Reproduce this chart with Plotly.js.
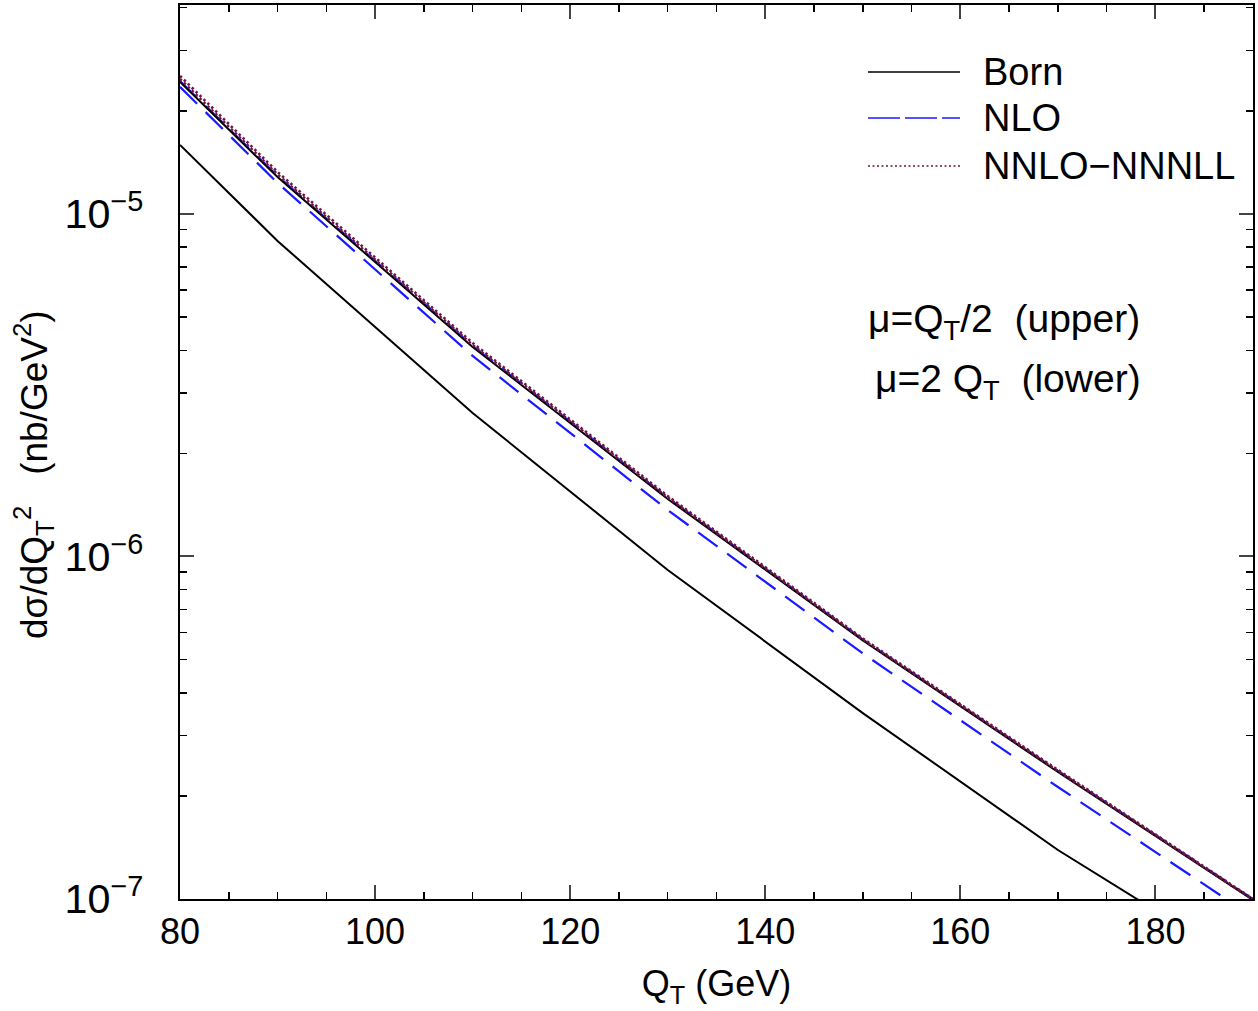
<!DOCTYPE html>
<html>
<head>
<meta charset="utf-8">
<script src="https://cdn.plot.ly/plotly-3.0.1.min.js"></script>
<style>html,body{margin:0;padding:0;background:#fff;}#plot{width:1258px;height:1011px;}</style>
</head>
<body>
<div id="plot"></div>
<script>
// Q_T sample points (GeV)
const qt = [80, 90, 110, 130, 150, 170, 190];
// mu = Q_T/2 (upper) curves
const bornUpper = [2.429e-5, 1.282e-5, 4.090e-6, 1.472e-6, 5.684e-7, 2.349e-7, 9.93e-8];
const nloUpper  = [2.445e-5, 1.291e-5, 4.118e-6, 1.482e-6, 5.72e-7, 2.365e-7, 1.0e-7];
const nnloUpper = [2.529e-5, 1.326e-5, 4.202e-6, 1.502e-6, 5.761e-7, 2.381e-7, 1.0e-7];
// mu = 2 Q_T (lower) curves
const bornLower = [1.590e-5, 8.34e-6, 2.624e-6, 9.13e-7, 3.49e-7, 1.390e-7, 6.16e-8];
const nloLower  = [2.349e-5, 1.232e-5, 3.85e-6, 1.367e-6, 5.21e-7, 2.123e-7, 8.86e-8];
const nnloLower = [2.479e-5, 1.304e-5, 4.145e-6, 1.487e-6, 5.722e-7, 2.365e-7, 9.96e-8];

const legendNames = ["Born", "NLO", "NNLO\u2212NNNLL"];
const colBorn = "#000000", colNLO = "#1a1aff", colNNLO = "#6e1446";
const FONT = "Liberation Sans, Arial, Helvetica, sans-serif";

const styles = {
  born: {color: colBorn, width: 2, dash: "solid"},
  nlo:  {color: colNLO, width: 2.2, dash: "24px,12px"},
  nnlo: {color: colNNLO, width: 2.6, dash: "2.5px,3px"}
};

function tr(y, st, name) {
  return {x: qt, y: y, type: "scatter", mode: "lines", name: name, showlegend: false,
          line: Object.assign({}, st), hoverinfo: "skip"};
}
const data = [
  tr(nloUpper, styles.nlo, legendNames[1]),
  tr(nloLower, styles.nlo, legendNames[1]),
  tr(bornUpper, styles.born, legendNames[0]),
  tr(bornLower, styles.born, legendNames[0]),
  tr(nnloUpper, styles.nnlo, legendNames[2]),
  tr(nnloLower, styles.nnlo, legendNames[2])
];

// manual legend (paper coords)
const L = 1073, T = 894;
function px(x){return (x-180)/L;}
function py(y){return (899-y)/T;}
const legRows = [
  {y: 72, color: colBorn, dash: "solid", text: legendNames[0]},
  {y: 118, color: colNLO, dash: "32px,5px", text: legendNames[1]},
  {y: 166, color: colNNLO, dash: "2px,2.5px", text: legendNames[2]}
];
const shapes = legRows.map(r => ({type: "line", xref: "paper", yref: "paper",
  x0: px(868), x1: px(960), y0: py(r.y), y1: py(r.y),
  line: {color: r.color, width: 1.6, dash: r.dash}}));
const annotations = legRows.map(r => ({xref: "paper", yref: "paper", x: px(981), y: py(r.y),
  xanchor: "left", yanchor: "middle", showarrow: false, text: r.text,
  font: {family: FONT, size: 38, color: "#000"}}));
annotations.push({xref: "paper", yref: "paper", x: px(1004), y: py(321), xanchor: "center", yanchor: "middle",
  showarrow: false, text: "\u03bc=Q<sub>T</sub>/2\u00a0\u00a0(upper)", font: {family: FONT, size: 39, color: "#000"}});
annotations.push({xref: "paper", yref: "paper", x: px(1008), y: py(381), xanchor: "center", yanchor: "middle",
  showarrow: false, text: "\u03bc=2 Q<sub>T</sub>\u00a0\u00a0(lower)", font: {family: FONT, size: 39, color: "#000"}});
annotations.push({xref: "paper", yref: "paper", x: px(34), y: py(475), xanchor: "center", yanchor: "middle",
  textangle: -90, showarrow: false,
  text: "d\u03c3/dQ<sub>T</sub><sup>2</sup>\u00a0\u00a0\u00a0(nb/GeV<sup>2</sup>)", font: {family: FONT, size: 37, color: "#000"}});

const layout = {
  width: 1258, height: 1011,
  margin: {l: 180, r: 5, t: 5, b: 112},
  paper_bgcolor: "#fff", plot_bgcolor: "#fff",
  showlegend: false,
  font: {family: FONT, color: "#000"},
  xaxis: {
    range: [80, 190], tick0: 80, dtick: 20, ticks: "inside", ticklen: 14, tickwidth: 2,
    showline: true, linewidth: 2, linecolor: "#000", mirror: "ticks", showgrid: false, zeroline: false,
    minor: {dtick: 5, ticks: "inside", ticklen: 7, tickwidth: 1.5, tickcolor: "#000", showgrid: false},
    tickfont: {family: FONT, size: 36, color: "#000"},
    title: {text: "Q<sub>T</sub> (GeV)", font: {family: FONT, size: 36, color: "#000"}, standoff: 20}
  },
  yaxis: {
    type: "log", range: [-7, -4.39], dtick: 1, exponentformat: "power", ticks: "inside", ticklen: 14, tickwidth: 2,
    showline: true, linewidth: 2, linecolor: "#000", mirror: "ticks", showgrid: false, zeroline: false,
    minor: {dtick: "D1", ticks: "inside", ticklen: 7, tickwidth: 1.5, tickcolor: "#000", showgrid: false},
    tickfont: {family: FONT, size: 33, color: "#000"}, ticklabelstandoff: 28
  },
  shapes: shapes,
  annotations: annotations
};

Plotly.newPlot("plot", data, layout, {staticPlot: true, displayModeBar: false});
</script>
</body>
</html>
